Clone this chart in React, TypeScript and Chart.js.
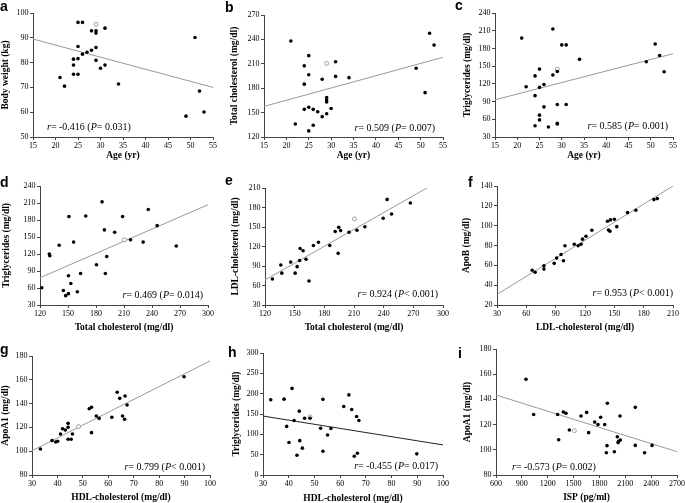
import React, { useEffect, useRef } from 'react';
import { Chart, registerables } from 'chart.js';
Chart.register(...registerables);

const SERIF = "'Liberation Serif', 'Times New Roman', serif";
const SANS = "'Liberation Sans', Arial, sans-serif";

// ---- panel a: Age vs Body weight ----
const aX = [25, 26, 28, 29, 29, 31, 51, 25, 29, 28, 27, 26, 24, 25, 29, 24, 31, 30, 21, 24, 25, 22, 34, 52, 53, 49];
const aY = [96.2, 96.2, 92.8, 92.8, 91.9, 93.9, 90.1, 86.5, 86.1, 85, 84.2, 83.4, 81.4, 81.6, 80.9, 79, 79, 77.7, 74, 75.3, 75.3, 70.5, 71.4, 68.5, 60.1, 58.4];
const aOpen = [29, 95.5];
const aFitX = [15, 55];
const aFitY = [89.5, 70];

// ---- panel b: Age vs Total cholesterol ----
const bX = [21, 52, 53, 25, 24, 31, 25, 31, 34, 28, 49, 24, 51, 29, 29, 29, 25, 24, 26, 27, 30, 29, 28, 22, 26, 25];
const bY = [238, 247.5, 233, 220, 207.5, 212.5, 196.5, 194.5, 193, 191, 204.5, 185, 174.5, 168.5, 165.5, 163, 156.5, 154, 154, 151, 155, 148.5, 145, 136, 134.5, 127.5];
const bOpen = [29, 210.5];
const bFitX = [15, 55];
const bFitY = [157.6, 218];

// ---- panel c: Age vs Triglycerides ----
const cX = [21, 28, 30, 31, 51, 52, 34, 49, 53, 29, 25, 24, 28, 26, 22, 25, 24, 26, 29, 31, 25, 25, 29, 29, 24, 27];
const cY = [197.5, 213, 186, 186, 187.5, 168, 161.5, 157.5, 140.5, 141, 145, 133.5, 135, 119, 115, 114, 100, 81, 85, 85, 67, 59, 53, 52, 49, 47];
const cOpen = [29, 145];
const cFitX = [15, 55];
const cFitY = [93, 171];

// ---- panel d: Total cholesterol vs Triglycerides ----
const dX = [186.5, 236, 151, 169, 208.5, 189, 200, 245.5, 217, 230.5, 266, 156, 140.5, 130, 130.5, 191.5, 180.5, 150.5, 163.5, 190, 153, 122, 145, 147.5, 150.5, 160];
const dY = [212, 198.5, 186, 187, 186, 162.5, 158.5, 170, 145, 141, 134, 141, 135.5, 120, 117, 115.5, 101, 81.5, 85.5, 85.5, 68, 60.5, 55.5, 46.5, 50, 53.5];
const dOpen = [210.5, 145];
const dFitX = [120, 300];
const dFitY = [78, 207];

// ---- panel e: Total cholesterol vs LDL-cholesterol ----
const eX = [243.5, 267, 248, 239.5, 191, 194.5, 196.5, 205, 213, 221, 174, 169, 185.5, 155.5, 158.5, 194, 161.5, 146, 155, 136, 152.5, 137, 150.5, 127.5, 164.5];
const eY = [192.5, 187, 170, 163.5, 143, 149.5, 144.5, 142, 145, 150.5, 126.5, 121.5, 121.5, 117, 113.5, 109.5, 100.5, 96, 98.5, 91.5, 89, 79, 79, 70, 67];
const eOpen = [210.5, 162.5];
const eFitX = [120, 300];
const eFitY = [68.5, 224];

// ---- panel f: LDL-cholesterol vs ApoB ----
const fX = [190.5, 194, 172, 163.5, 150, 146, 143, 152.5, 144, 145.5, 127, 121, 117.5, 116, 113, 109, 99.5, 95.5, 91, 98, 88.5, 78, 78, 66, 69];
const fY = [126.3, 127.3, 115.5, 113.2, 106.5, 105.8, 104.5, 99, 95.7, 94.4, 95.4, 89.4, 86.4, 81.3, 79.7, 81.3, 79.7, 71, 67.3, 64.6, 62, 59.5, 56.2, 55, 53];
const fFitX = [30, 210];
const fFitY = [30.7, 140];

// ---- panel g: HDL-cholesterol vs ApoA1 ----
const gX = [89.8, 63.5, 66.6, 64.5, 67.4, 53.4, 52.5, 61.4, 65.6, 66.4, 55.3, 56.4, 53.4, 44.2, 44.2, 42, 43.1, 41.2, 45.9, 44.2, 45.4, 37.9, 39.3, 40.1, 33.3];
const gY = [162.6, 149.5, 146.4, 144.4, 138.8, 136.9, 135.7, 128.5, 129.6, 126.8, 129.6, 127.6, 115.6, 123.4, 120.1, 118.9, 117.8, 114.5, 114.5, 110, 110, 108.9, 107.7, 108.3, 101.8];
const gOpen = [48.3, 120.6];
const gFitX = [30, 100];
const gFitY = [100.4, 175.8];

// ---- panel h: HDL-cholesterol vs Triglycerides ----
const hX = [33, 38.2, 41.3, 53.3, 63.4, 61.4, 64.5, 66.4, 67.3, 44.1, 42.1, 46.2, 48.3, 39.2, 52.4, 56.4, 55.1, 40.1, 44.3, 45.3, 43.2, 53.3, 66.7, 65.5, 89.8];
const hY = [185, 186.5, 213, 186, 197, 168.5, 161, 144, 134, 157, 134, 139.5, 139.5, 119.5, 115, 114.5, 98.5, 80, 84.5, 66, 48.5, 58.5, 53.5, 46, 52];
const hOpen = [48.3, 143];
const hFitX = [30, 100];
const hFitY = [145, 74];

// ---- panel i: ISP vs ApoA1 ----
const iX = [948, 1037, 1315, 1381, 1412, 1327, 1451, 1586, 1652, 1675, 1745, 1814, 1783, 1861, 1892, 1888, 1880, 1973, 2008, 2016, 2023, 2039, 2042, 2216, 2216, 2324, 2410];
const iY = [156, 128, 128, 130, 129, 108, 115.7, 126.8, 129.7, 113.6, 122, 125.8, 120, 120, 137, 103.3, 97.7, 98.5, 110.4, 105.7, 106.7, 126.8, 107.8, 133.7, 103.5, 97.7, 103.5];
const iOpen = [1509, 115.2];
const iFitX = [600, 2700];
const iFitY = [143.5, 98.5];

const panelLetters = ['a', 'b', 'c', 'd', 'e', 'f', 'g', 'h', 'i'];
const rValues = ['-0.416', '0.509', '0.585', '0.469', '0.924', '0.953', '0.799', '-0.455', '-0.573'];
const pValues = ['= 0.031', '= 0.007', '= 0.001', '= 0.014', '< 0.001', '< 0.001', '< 0.001', '= 0.017', '= 0.002'];
const xTitles = ['Age (yr)', 'Age (yr)', 'Age (yr)', 'Total cholesterol (mg/dl)', 'Total cholesterol (mg/dl)', 'LDL-cholesterol (mg/dl)', 'HDL-cholesterol (mg/dl)', 'HDL-cholesterol (mg/dl)', 'ISP (pg/ml)'];
const yTitles = ['Body weight (kg)', 'Total cholesterol (mg/dl)', 'Triglycerides (mg/dl)', 'Triglycerides (mg/dl)', 'LDL-cholesterol (mg/dl)', 'ApoB (mg/dl)', 'ApoA1 (mg/dl)', 'Triglycerides (mg/dl)', 'ApoA1 (mg/dl)'];
// axis ranges [min, max, step]
const xRanges = [[15, 55, 5], [15, 55, 5], [15, 55, 5], [120, 300, 30], [120, 300, 30], [30, 210, 30], [30, 100, 10], [30, 100, 10], [600, 2700, 300]];
const yRanges = [[50, 100, 10], [120, 270, 30], [30, 240, 30], [30, 240, 30], [30, 210, 30], [20, 140, 20], [80, 180, 20], [0, 300, 50], [80, 180, 20]];

const seriesX = [aX, bX, cX, dX, eX, fX, gX, hX, iX];
const seriesY = [aY, bY, cY, dY, eY, fY, gY, hY, iY];
const openPts: (number[] | null)[] = [aOpen, bOpen, cOpen, dOpen, eOpen, null, gOpen, hOpen, iOpen];
const fitXs = [aFitX, bFitX, cFitX, dFitX, eFitX, fFitX, gFitX, hFitX, iFitX];
const fitYs = [aFitY, bFitY, cFitY, dFitY, eFitY, fFitY, gFitY, hFitY, iFitY];
const fitColors = ['#999', '#999', '#999', '#999', '#999', '#999', '#999', '#222', '#999'];

// layout: plot rect [L, T, R, B], y-title center x, x-title center y (page px)
const plotRects = [
  [33, 13, 213, 137], [264, 15, 443, 137], [495, 13, 673, 137],
  [40, 186, 208, 305], [265, 188, 443, 305], [497, 186, 673, 305],
  [32, 356, 210, 475], [263, 353, 443, 475], [496, 349, 677, 475],
];
const yTitleXs = [6, 235, 468, 7, 236, 467, 6, 237, 468];
const xTitleYs = [155, 155, 155, 327, 327, 327, 497, 498, 497];
// stat text: align, dx from side, dy above bottom
const statPos: [string, number, number][] = [
  ['left', 14, 10], ['right', 8, 9], ['right', 5, 11],
  ['right', 5, 10], ['right', 5, 11], ['right', 0, 12],
  ['right', 5, 8], ['right', 5, 9], ['left', 16, 8],
];
const letterPos = [
  [0, 10.5], [225, 12], [455, 10],
  [0, 187], [225, 185], [468, 187],
  [0, 354], [228, 357], [458, 358],
];

const statPlugin = {
  id: 'statText',
  afterDraw(chart: any) {
    const o = chart.options.plugins.statText;
    if (!o) return;
    const ctx = chart.ctx;
    const area = chart.chartArea;
    const segs: [string, boolean][] = [['r', true], ['= ' + o.r + ' (', false], ['P', true], [o.p + ')', false]];
    const fontFor = (it: boolean) => `${it ? 'italic ' : ''}10px ${SERIF}`;
    let total = 0;
    for (const [t, it] of segs) { ctx.font = fontFor(it); total += ctx.measureText(t).width; }
    let x = o.align === 'left' ? area.left + o.dx : area.right - o.dx - total;
    const y = area.bottom - o.dy;
    ctx.save();
    ctx.fillStyle = '#000';
    ctx.textBaseline = 'middle';
    ctx.textAlign = 'left';
    for (const [t, it] of segs) {
      ctx.font = fontFor(it);
      ctx.fillText(t, x, y);
      x += ctx.measureText(t).width;
    }
    ctx.restore();
  },
};

const TITLE_LH = 11.4;

function Panel({ idx }: { idx: number }) {
  const ref = useRef<HTMLCanvasElement>(null);
  const [L, T, R, B] = plotRects[idx];
  const cx = Math.round(yTitleXs[idx] - TITLE_LH / 2);
  const cy = T - 20;
  const cw = R + 20 - cx;
  const ch = Math.round(xTitleYs[idx] + TITLE_LH / 2) - cy;
  const yW = L - cx;
  const xH = cy + ch - B;

  useEffect(() => {
    const pts = seriesX[idx].map((x, k) => ({ x, y: seriesY[idx][k] }));
    const fit = fitXs[idx].map((x, k) => ({ x, y: fitYs[idx][k] }));
    const datasets: any[] = [
      { data: pts, pointRadius: 1.8, pointBackgroundColor: '#000', pointBorderWidth: 0, showLine: false, order: 0 },
    ];
    const op = openPts[idx];
    if (op) {
      datasets.push({ data: [{ x: op[0], y: op[1] }], pointRadius: 2, pointBackgroundColor: '#fff', pointBorderColor: '#888', pointBorderWidth: 0.8, showLine: false, order: 1 });
    }
    datasets.push({ data: fit, showLine: true, pointRadius: 0, borderColor: fitColors[idx], borderWidth: 1, order: 2 });

    const tickFont = { family: SERIF, size: 8 };
    const titleFont = { family: SERIF, size: 9.5, weight: 'bold' as const, lineHeight: 1.2 };
    const mkScale = (range: number[], title: string, fit: (s: any) => void) => ({
      type: 'linear' as const,
      min: range[0], max: range[1],
      ticks: { stepSize: range[2], color: '#000', font: tickFont, padding: 1.5, autoSkip: false, maxRotation: 0, callback: (v: any) => String(v) },
      grid: { drawOnChartArea: false, drawTicks: true, tickLength: 3, color: '#444' },
      border: { display: true, color: '#444', width: 1 },
      title: { display: true, text: title, color: '#000', font: titleFont, padding: 0 },
      afterFit: fit,
    });

    const chart = new Chart(ref.current as HTMLCanvasElement, {
      type: 'scatter',
      data: { datasets },
      options: {
        responsive: false,
        animation: false,
        events: [],
        layout: { padding: { left: 0, top: 20, right: 20, bottom: 0 } },
        plugins: {
          legend: { display: false },
          tooltip: { enabled: false },
          statText: { r: rValues[idx], p: pValues[idx], align: statPos[idx][0], dx: statPos[idx][1], dy: statPos[idx][2] },
        } as any,
        scales: {
          x: mkScale(xRanges[idx], xTitles[idx], (s: any) => { s.height = xH; }),
          y: mkScale(yRanges[idx], yTitles[idx], (s: any) => { s.width = yW; }),
        },
      },
      plugins: [statPlugin],
    } as any);
    return () => chart.destroy();
  }, []);

  return (
    <canvas ref={ref} width={cw} height={ch}
      style={{ position: 'absolute', left: cx, top: cy, width: cw, height: ch }} />
  );
}

export default function App() {
  return (
    <div style={{ position: 'absolute', left: 0, top: 0, width: 685, height: 503, overflow: 'hidden', background: '#fff' }}>
      {panelLetters.map((_, i) => <Panel key={i} idx={i} />)}
      {panelLetters.map((ltr, i) => (
        <div key={'l' + i} style={{
          position: 'absolute', left: letterPos[i][0], top: letterPos[i][1] - 11.85,
          font: `bold 14px ${SANS}`, lineHeight: 1, color: '#000',
        }}>{ltr}</div>
      ))}
    </div>
  );
}
